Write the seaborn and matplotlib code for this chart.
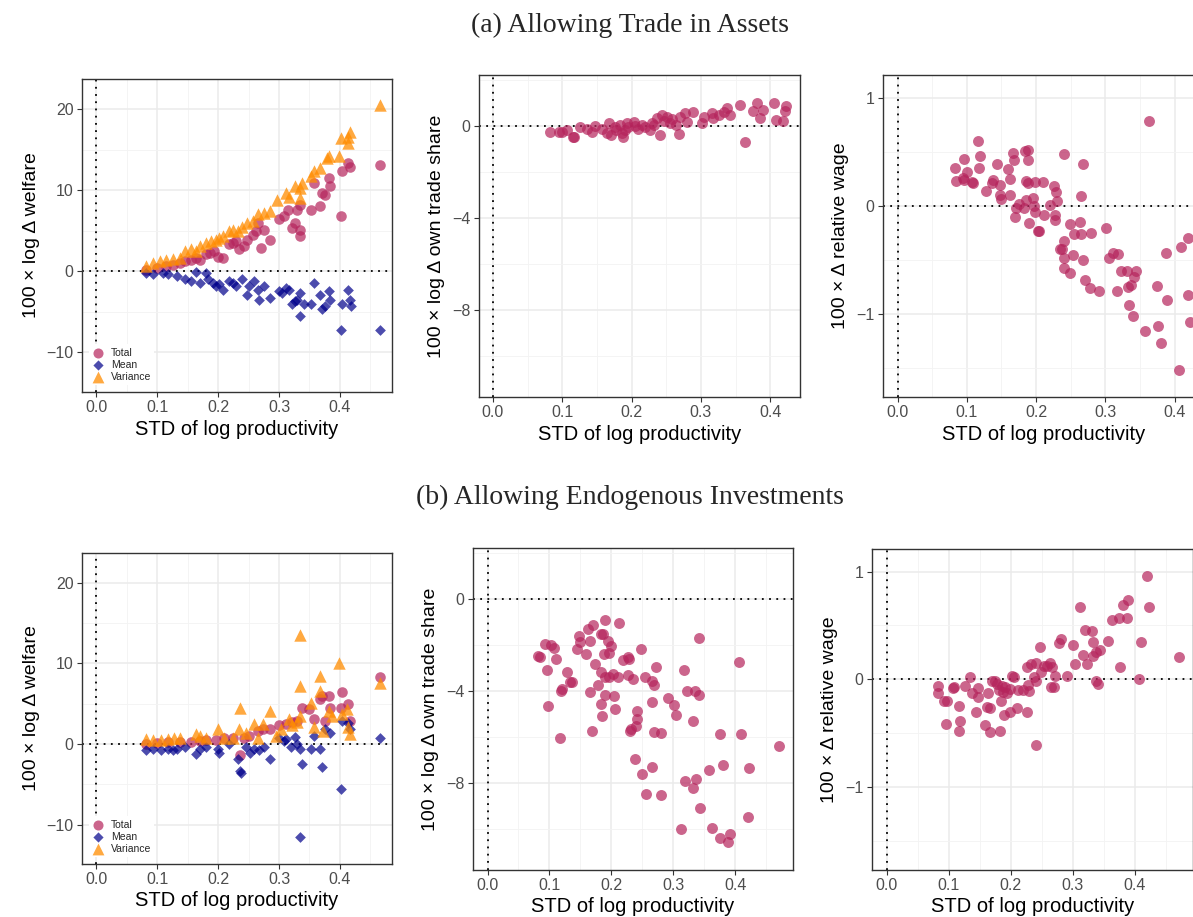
import numpy as np
import pandas as pd
import matplotlib
matplotlib.use('Agg')
import matplotlib.pyplot as plt
from matplotlib.ticker import MultipleLocator, FormatStrFormatter
import seaborn as sns

sns.set_style('white')
plt.rcParams['font.family'] = ['Liberation Sans', 'DejaVu Sans']

# ---- (a) allowing trade in assets: welfare decomposition
a_total_x = [.081, .099, .115, .126, .137, .145, .156, .164, .170, .180, .186, .194, .200, .208,
             .218, .224, .229, .235, .243, .248, .257, .262, .265, .270, .276, .286, .300, .308,
             .314, .322, .327, .330, .335, .335, .335, .352, .357, .368, .371, .376, .382, .384,
             .401, .403, .414, .417, .465]
a_total_y = [0.2, 0.4, 0.6, 0.8, 1.0, 1.2, 1.4, 1.6, 1.4, 2.1, 2.3, 2.5, 1.8, 1.6,
             3.3, 3.5, 3.7, 2.7, 3.1, 3.9, 4.5, 4.9, 6.0, 2.9, 5.1, 3.9, 6.4, 6.8,
             7.6, 5.3, 6.0, 7.6, 8.2, 5.1, 4.3, 7.6, 10.9, 8.0, 9.7, 9.4, 11.5, 10.5,
             6.8, 12.3, 13.3, 12.9, 13.1]
a_mean_x = [.081, .093, .110, .118, .132, .145, .156, .164, .170, .180, .183, .191, .197, .202,
            .208, .218, .224, .229, .240, .248, .251, .259, .265, .267, .276, .286, .300, .305,
            .311, .316, .322, .327, .330, .335, .335, .341, .352, .357, .368, .371, .376, .382,
            .384, .401, .403, .414, .417, .418, .465]
a_mean_y = [-0.2, -0.3, -0.2, -0.4, -0.6, -1.0, -1.2, -0.1, -1.4, -0.2, -1.0, -1.4, -1.8, -1.6,
            -2.3, -1.2, -1.4, -1.8, -1.0, -2.9, -1.8, -1.2, -2.3, -3.5, -1.8, -3.3, -2.5, -2.7,
            -2.1, -2.3, -4.1, -3.7, -3.5, -2.7, -5.5, -4.1, -4.1, -1.4, -2.9, -4.7, -4.3, -2.5,
            -3.5, -7.2, -4.1, -2.3, -3.5, -4.3, -7.2]
a_var_x = [.081, .093, .104, .115, .126, .137, .145, .156, .164, .170, .180, .189, .197, .202,
           .208, .218, .224, .232, .240, .248, .257, .265, .276, .286, .297, .311, .316, .327,
           .335, .338, .335, .352, .357, .368, .379, .382, .398, .401, .414, .417, .414, .465]
a_var_y = [0.6, 1.0, 1.2, 1.4, 1.5, 1.6, 2.5, 2.7, 2.5, 3.1, 3.5, 3.7, 3.9, 4.1,
           4.3, 4.9, 5.1, 4.9, 5.5, 6.0, 6.2, 7.0, 7.2, 7.4, 8.8, 9.7, 9.2, 10.5,
           10.3, 10.9, 9.0, 11.7, 12.3, 12.7, 14.0, 14.2, 14.2, 16.4, 16.6, 17.2, 15.8, 20.5]

# ---- (a) own trade share
a_share_x = [.083, .095, .107, .116, .126, .136, .143, .148, .157, .165, .168, .176, .184, .186,
             .191, .193, .203, .210, .215, .226, .229, .237, .241, .244, .251, .256, .264, .268,
             .270, .277, .280, .289, .302, .304, .316, .318, .326, .333, .338, .342, .357, .363,
             .375, .381, .386, .390, .406, .409, .419, .422, .423, .100, .117, .170, .187, .178,
             .195, .205, .220, .233, .247, .258]
a_share_y = [-0.26, -0.26, -0.19, -0.48, -0.07, -0.16, -0.26, -0.01, -0.16, -0.33, 0.10, -0.07,
             0.03, -0.33, -0.19, 0.10, 0.17, -0.16, 0.03, -0.19, 0.10, 0.32, -0.40, 0.46, 0.39,
             0.10, 0.03, -0.36, 0.39, 0.54, 0.17, 0.61, 0.10, 0.39, 0.56, 0.32, 0.46, 0.61, 0.75,
             0.46, 0.90, -0.72, 0.65, 0.97, 0.32, 0.68, 1.00, 0.25, 0.22, 0.65, 0.85, -0.26,
             -0.48, -0.40, -0.48, -0.20, -0.05, 0.00, -0.05, 0.05, 0.20, 0.30]

# ---- (a) relative wage
a_wage_x = [.083, .084, .094, .096, .096, .101, .108, .109, .116, .119, .118, .128, .136, .138,
            .144, .148, .148, .149, .160, .162, .163, .167, .168, .171, .170, .176, .182, .184,
            .185, .186, .188, .189, .190, .189, .196, .197, .198, .198, .203, .204, .210, .211,
            .220, .226, .229, .230, .227, .227, .234, .237, .240, .241, .240, .241, .249, .249,
            .253, .255, .264, .265, .265, .268, .268, .271, .278, .280, .291, .301, .305, .311,
            .317, .319, .323, .331, .333, .334, .337, .341, .345, .340, .358, .363, .375, .376,
            .381, .387, .389, .406, .410, .419, .419, .423]
a_wage_y = [.35, .23, .26, .43, .24, .31, .22, .21, .60, .46, .35, .14, .21, .24,
            .39, .19, .10, .06, .34, .10, .25, .49, .42, -.02, -.10, .02, -.02, .51,
            .05, .23, .52, .42, -.16, .21, .07, .00, -.06, .22, -.23, -.23, .22, -.09,
            .01, .18, .13, .04, -.09, -.13, -.40, -.40, -.48, -.33, -.58, .48, -.17, -.62,
            -.46, -.26, -.15, .09, -.26, .39, -.50, -.69, -.76, -.25, -.79, -.21, -.48, -.44,
            -.79, -.45, -.60, -.60, -.75, -.92, -.73, -.66, -.60, -1.02, -1.16, .78, -.74, -1.11,
            -1.27, -.44, -.87, -1.52, -.38, -.30, -.83, -1.08]

# ---- (b) allowing endogenous investments: welfare decomposition
b_total_x = [.081, .099, .118, .137, .156, .170, .180, .197, .210, .224, .236, .243, .251, .265,
             .273, .286, .300, .311, .322, .330, .338, .349, .357, .368, .371, .376, .382, .384,
             .401, .403, .414, .417, .465]
b_total_y = [0.0, 0.1, 0.2, 0.2, 0.2, 0.4, 0.5, 0.5, 0.7, 0.8, -1.4, 0.8, 1.0, 1.6,
             1.9, 1.9, 2.3, 2.5, 2.7, 2.8, 4.5, 4.3, 3.1, 5.6, 6.0, 2.9, 6.0, 4.5,
             4.5, 6.5, 4.9, 2.9, 8.3]
b_mean_x = [.081, .093, .107, .118, .126, .132, .145, .164, .170, .180, .199, .202, .218, .232,
            .236, .237, .246, .252, .259, .267, .276, .286, .300, .308, .311, .319, .327, .330,
            .335, .335, .338, .352, .357, .368, .371, .376, .384, .401, .403, .413, .417, .465]
b_mean_y = [-0.8, -0.6, -0.8, -0.6, -0.8, -0.6, -0.4, -1.2, -0.6, -0.4, -0.6, -1.1, 0.0, -1.9,
            -3.3, -3.6, -0.4, -1.1, -0.6, -0.8, -0.4, -1.9, 0.7, 0.4, 0.6, -0.4, 0.9, 0.0,
            -0.6, -11.5, -2.5, -0.6, 1.0, -0.6, -2.8, 1.9, 1.4, -5.6, 2.8, 2.6, 1.9, 0.8]
b_var_x = [.081, .093, .107, .118, .127, .137, .164, .170, .180, .199, .209, .224, .235, .236,
           .246, .259, .265, .273, .286, .295, .303, .316, .322, .329, .335, .335, .335, .352,
           .357, .368, .368, .373, .382, .387, .399, .403, .411, .414, .417, .465]
b_var_y = [0.6, 0.5, 0.5, 0.6, 0.8, 0.8, 1.2, 1.0, 0.7, 1.9, 0.7, 0.8, 1.9, 4.5,
           1.4, 2.5, 0.8, 2.5, 4.1, 1.0, 1.9, 3.1, 2.3, 2.7, 13.5, 7.2, 3.5, 5.1,
           2.1, 8.4, 6.6, 1.6, 4.1, 3.5, 10.1, 3.7, 4.3, 2.1, 1.2, 7.6]

# ---- (b) own trade share
b_share_x = [.082, .085, .093, .096, .097, .102, .108, .110, .117, .118, .120, .128, .134, .137,
             .144, .148, .149, .159, .162, .165, .166, .168, .170, .173, .179, .183, .183, .184,
             .185, .186, .188, .189, .190, .189, .195, .197, .197, .199, .202, .204, .206, .210,
             .212, .219, .227, .229, .227, .230, .231, .235, .238, .240, .241, .242, .248, .249,
             .254, .256, .265, .266, .266, .269, .269, .272, .280, .281, .291, .302, .305, .312,
             .317, .319, .323, .332, .332, .335, .337, .341, .342, .344, .358, .363, .376, .376,
             .381, .388, .391, .407, .410, .420, .423, .471]
b_share_y = [-2.47, -2.53, -1.96, -3.10, -4.64, -1.99, -2.14, -2.61, -6.04, -3.99, -3.91, -3.18,
             -3.62, -3.62, -2.17, -1.63, -1.88, -2.38, -1.31, -1.82, -4.04, -5.75, -1.13, -2.83,
             -3.73, -1.53, -3.19, -4.55, -5.10, -1.53, -2.38, -4.19, -0.91, -3.39, -1.85, -3.39,
             -2.35, -2.06, -3.25, -4.20, -4.77, -3.41, -1.05, -2.64, -2.53, -2.60, -3.29, -5.75,
             -5.63, -3.48, -6.95, -5.53, -5.21, -4.88, -2.17, -7.60, -3.39, -8.46, -7.31, -3.55,
             -4.49, -3.75, -5.79, -2.97, -5.82, -8.49, -4.30, -4.62, -5.05, -9.98, -3.10, -7.88,
             -3.99, -8.20, -5.31, -3.99, -7.81, -4.19, -1.70, -9.07, -7.41, -9.96, -5.85, -10.37,
             -7.19, -10.54, -10.22, -2.76, -5.85, -9.46, -7.34, -6.40]

# ---- (b) relative wage
b_wage_x = [.083, .083, .093, .096, .098, .107, .109, .117, .117, .119, .127, .135, .137, .144,
            .148, .148, .159, .162, .163, .167, .167, .170, .174, .178, .181, .183, .184, .186,
            .188, .189, .190, .194, .198, .198, .202, .205, .210, .211, .219, .226, .228, .226,
            .230, .232, .237, .240, .241, .241, .247, .248, .254, .259, .263, .265, .267, .269,
            .272, .278, .281, .290, .301, .304, .312, .316, .319, .323, .331, .332, .333, .338,
            .340, .337, .344, .357, .363, .375, .376, .380, .387, .389, .406, .409, .419, .423,
            .471]
b_wage_y = [-.06, -.13, -.20, -.41, -.20, -.08, -.07, -.25, -.48, -.39, -.06, .02, -.13, -.30,
            -.08, -.16, -.42, -.26, -.13, -.49, -.27, -.02, -.02, -.04, -.10, -.48, -.20, -.06,
            -.12, -.33, -.07, -.13, -.30, -.09, .03, .02, -.27, -.10, -.10, .11, -.05, -.30,
            -.11, .14, .02, .15, -.61, -.02, .30, .07, .12, .12, .15, -.07, .11, -.07,
            .03, .34, .37, .03, .32, .14, .67, .23, .46, .14, .45, .35, .22, -.02,
            -.04, .25, .27, .36, .55, .57, .11, .69, .57, .74, .00, .35, .96, .67,
            .21]

c_total = '#B5245C'
c_mean = '#00008B'
c_var = '#FF8C00'
grey_txt = '#4D4D4D'
frame_col = '#333333'

W, H = 1193, 917
fig = plt.figure(figsize=(W / 100, H / 100), dpi=100)


def px_axes(l, t, r, b):
    return fig.add_axes([l / W, 1 - b / H, (r - l) / W, (b - t) / H])


def style_ax(ax, xlim, ylim, ymaj, ymin, ylabel):
    ax.set_xlim(*xlim)
    ax.set_ylim(*ylim)
    ax.xaxis.set_major_locator(MultipleLocator(0.1))
    ax.xaxis.set_minor_locator(MultipleLocator(0.05))
    ax.xaxis.set_major_formatter(FormatStrFormatter('%.1f'))
    ax.yaxis.set_major_locator(MultipleLocator(ymaj))
    ax.yaxis.set_minor_locator(MultipleLocator(ymin))
    ax.set_axisbelow(True)
    ax.grid(which='major', color='#EBEBEB', linewidth=1.1)
    ax.grid(which='minor', color='#F3F3F3', linewidth=0.6)
    for sp in ax.spines.values():
        sp.set_color(frame_col)
        sp.set_linewidth(1.0)
    ax.tick_params(which='major', direction='out', length=3.5, width=0.8, color=frame_col,
                   labelsize=11.5, labelcolor=grey_txt, pad=2.5, left=True, bottom=True)
    ax.tick_params(which='minor', length=0)
    ax.axhline(0, color='black', linestyle=(0, (1, 3)), linewidth=1.3, zorder=1.5)
    ax.axvline(0, color='black', linestyle=(0, (1, 3)), linewidth=1.3, zorder=1.5)
    ax.set_xlabel('STD of log productivity', fontsize=14.5, color='black', labelpad=3)
    ax.set_ylabel(ylabel, fontsize=14, color='black', labelpad=5)


def welfare_panel(ax, tx, ty, mx, my, vx, vy):
    sns.scatterplot(x=tx, y=ty, ax=ax, color=c_total, marker='o', s=58, alpha=0.7,
                    linewidth=0, label='Total', zorder=2)
    sns.scatterplot(x=mx, y=my, ax=ax, color=c_mean, marker='D', s=30, alpha=0.7,
                    linewidth=0, label='Mean', zorder=2)
    sns.scatterplot(x=vx, y=vy, ax=ax, color=c_var, marker='^', s=80, alpha=0.75,
                    linewidth=0, label='Variance', zorder=2)
    style_ax(ax, (-0.0235, 0.4855), (-14.9, 23.7), 10, 5, '100 × log Δ welfare')
    leg = ax.legend(loc='lower left', bbox_to_anchor=(0.005, 0.005), fontsize=7.5, frameon=True,
                    facecolor='white', edgecolor='none', framealpha=1, handletextpad=0.6,
                    labelspacing=0.22, borderpad=0.3, handlelength=1.2, markerscale=0.95)
    leg.set_zorder(3)


def single_panel(ax, x, y, xlim, ylim, ymaj, ymin, ylabel):
    sns.scatterplot(x=x, y=y, ax=ax, color=c_total, marker='o', s=62, alpha=0.7,
                    linewidth=0, zorder=2)
    style_ax(ax, xlim, ylim, ymaj, ymin, ylabel)


# row (a)
ax1 = px_axes(82, 79, 392, 392)
welfare_panel(ax1, a_total_x, a_total_y, a_mean_x, a_mean_y, a_var_x, a_var_y)
ax2 = px_axes(479, 75, 800, 397)
single_panel(ax2, a_share_x, a_share_y, (-0.02, 0.443), (-11.76, 2.2), 4, 2,
             '100 × log Δ own trade share')
ax3 = px_axes(883, 75, 1205, 397)
single_panel(ax3, a_wage_x, a_wage_y, (-0.021, 0.444), (-1.77, 1.21), 1, 0.5,
             '100 × Δ relative wage')

# row (b)
ax4 = px_axes(82, 553, 392, 864)
welfare_panel(ax4, b_total_x, b_total_y, b_mean_x, b_mean_y, b_var_x, b_var_y)
ax5 = px_axes(473, 548, 793, 870)
single_panel(ax5, b_share_x, b_share_y, (-0.0235, 0.4935), (-11.76, 2.2), 4, 2,
             '100 × log Δ own trade share')
ax6 = px_axes(872, 549, 1193, 870)
single_panel(ax6, b_wage_x, b_wage_y, (-0.0235, 0.4935), (-1.77, 1.21), 1, 0.5,
             '100 × Δ relative wage')

fig.text(630 / W, 1 - 25 / H, '(a) Allowing Trade in Assets', ha='center', va='center',
         family='Liberation Serif', fontsize=20)
fig.text(630 / W, 1 - 497 / H, '(b) Allowing Endogenous Investments', ha='center',
         va='center', family='Liberation Serif', fontsize=20)

fig.savefig('out.png', dpi=100)
